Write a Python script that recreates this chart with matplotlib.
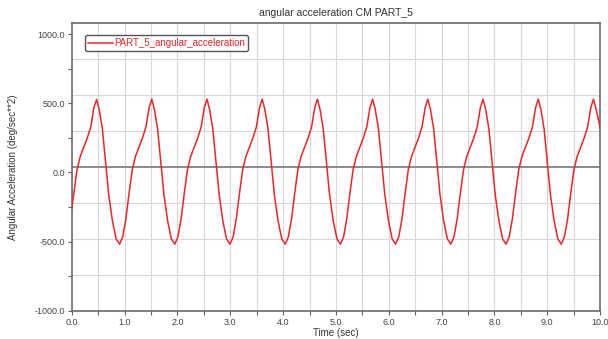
import matplotlib
matplotlib.use("Agg")
import matplotlib.pyplot as plt

plt.rcParams['font.family'] = ['Liberation Sans', 'DejaVu Sans']

# values
time_sec = [
    0.00, 0.04, 0.10, 0.16, 0.22, 0.29, 0.36, 0.42, 0.47, 0.52, 0.58, 0.64, 0.70, 0.77, 0.84,
    0.905, 0.965, 1.025, 1.085, 1.145, 1.205, 1.265, 1.335, 1.405, 1.465, 1.515, 1.565, 1.625, 1.685, 1.745, 1.815, 1.885,
    1.95, 2.01, 2.07, 2.13, 2.19, 2.25, 2.31, 2.38, 2.45, 2.51, 2.56, 2.61, 2.67, 2.73, 2.79, 2.86, 2.93,
    2.995, 3.055, 3.115, 3.175, 3.235, 3.295, 3.355, 3.425, 3.495, 3.555, 3.605, 3.655, 3.715, 3.775, 3.835, 3.905, 3.975,
    4.04, 4.10, 4.16, 4.22, 4.28, 4.34, 4.40, 4.47, 4.54, 4.60, 4.65, 4.70, 4.76, 4.82, 4.88, 4.95, 5.02,
    5.085, 5.145, 5.205, 5.265, 5.325, 5.385, 5.445, 5.515, 5.585, 5.645, 5.695, 5.745, 5.805, 5.865, 5.925, 5.995, 6.065,
    6.13, 6.19, 6.25, 6.31, 6.37, 6.43, 6.49, 6.56, 6.63, 6.69, 6.74, 6.79, 6.85, 6.91, 6.97, 7.04, 7.11,
    7.175, 7.235, 7.295, 7.355, 7.415, 7.475, 7.535, 7.605, 7.675, 7.735, 7.785, 7.835, 7.895, 7.955, 8.015, 8.085, 8.155,
    8.22, 8.28, 8.34, 8.40, 8.46, 8.52, 8.58, 8.65, 8.72, 8.78, 8.83, 8.88, 8.94, 9.00, 9.06, 9.13, 9.20,
    9.265, 9.325, 9.385, 9.445, 9.505, 9.565, 9.625, 9.695, 9.765, 9.825, 9.875, 9.925, 9.97, 10.00,
]
angular_acc = [
    -262, -150, 20, 115, 175, 245, 330, 470, 528, 455, 315, 75, -160, -350, -480,
    -518, -465, -335, -150, 20, 115, 175, 245, 330, 470, 530, 455, 315, 75, -160, -350, -480,
    -518, -465, -335, -150, 20, 115, 175, 245, 330, 470, 530, 455, 315, 75, -160, -350, -480,
    -518, -465, -335, -150, 20, 115, 175, 245, 330, 470, 530, 455, 315, 75, -160, -350, -480,
    -518, -465, -335, -150, 20, 115, 175, 245, 330, 470, 530, 455, 315, 75, -160, -350, -480,
    -518, -465, -335, -150, 20, 115, 175, 245, 330, 470, 530, 455, 315, 75, -160, -350, -480,
    -518, -465, -335, -150, 20, 115, 175, 245, 330, 470, 530, 455, 315, 75, -160, -350, -480,
    -518, -465, -335, -150, 20, 115, 175, 245, 330, 470, 530, 455, 315, 75, -160, -350, -480,
    -518, -465, -335, -150, 20, 115, 175, 245, 330, 470, 530, 455, 315, 75, -160, -350, -480,
    -518, -465, -335, -150, 20, 115, 175, 245, 330, 470, 530, 455, 380, 320,
]
x_ticks = [0, 1, 2, 3, 4, 5, 6, 7, 8, 9, 10]
y_ticks = [-1000, -500, 0, 500, 1000]

fig = plt.figure(figsize=(6.08, 3.39), dpi=100)
ax = fig.add_axes([0.118, 0.083, 0.869, 0.849])

ax.set_xlim(0, 10)
ax.set_ylim(-1000, 1080)

# grid: 20 columns, 8 rows over the plot area
for i in range(1, 20):
    ax.axvline(i * 0.5, color='#d8d8d8', lw=0.8, zorder=0)
for j in range(1, 8):
    y = -1000 + j * 260
    if j == 4:
        ax.axhline(y, color='#8a8a8a', lw=1.4, zorder=1)
    else:
        ax.axhline(y, color='#d8d8d8', lw=0.8, zorder=0)

ax.plot(time_sec, angular_acc, color='#e8262c', lw=1.1,
        label='PART_5_angular_acceleration', zorder=3)

ax.set_xticks(x_ticks)
ax.set_xticklabels([f'{v:.1f}' for v in x_ticks])
ax.set_xticks([v + 0.5 for v in x_ticks[:-1]], minor=True)
ax.set_yticks(y_ticks)
ax.set_yticklabels([f'{v:.1f}' for v in y_ticks])
ax.set_yticks([-750, -250, 250, 750], minor=True)
ax.tick_params(which='both', direction='out', length=3, width=0.8,
               colors='#606060', labelsize=6.5, labelcolor='#444444', pad=2)

for s in ax.spines.values():
    s.set_color('#6a6a6a')
    s.set_linewidth(1.2)

ax.set_title('angular acceleration CM PART_5', fontsize=7.5, color='#333333', pad=5)
ax.set_xlabel('Time (sec)', fontsize=7, color='#333333', labelpad=1)
ax.set_ylabel('Angular Acceleration (deg/sec**2)', fontsize=7, color='#333333', labelpad=12)

leg = ax.legend(loc='upper left', bbox_to_anchor=(0.016, 0.975), fontsize=7,
                labelcolor='linecolor', handlelength=2.6, handletextpad=0.1,
                borderpad=0.3, frameon=True, fancybox=True)
leg.get_frame().set_edgecolor('#555555')
leg.get_frame().set_linewidth(1.0)
leg.get_frame().set_alpha(1)

fig.savefig('out.png', dpi=100)
